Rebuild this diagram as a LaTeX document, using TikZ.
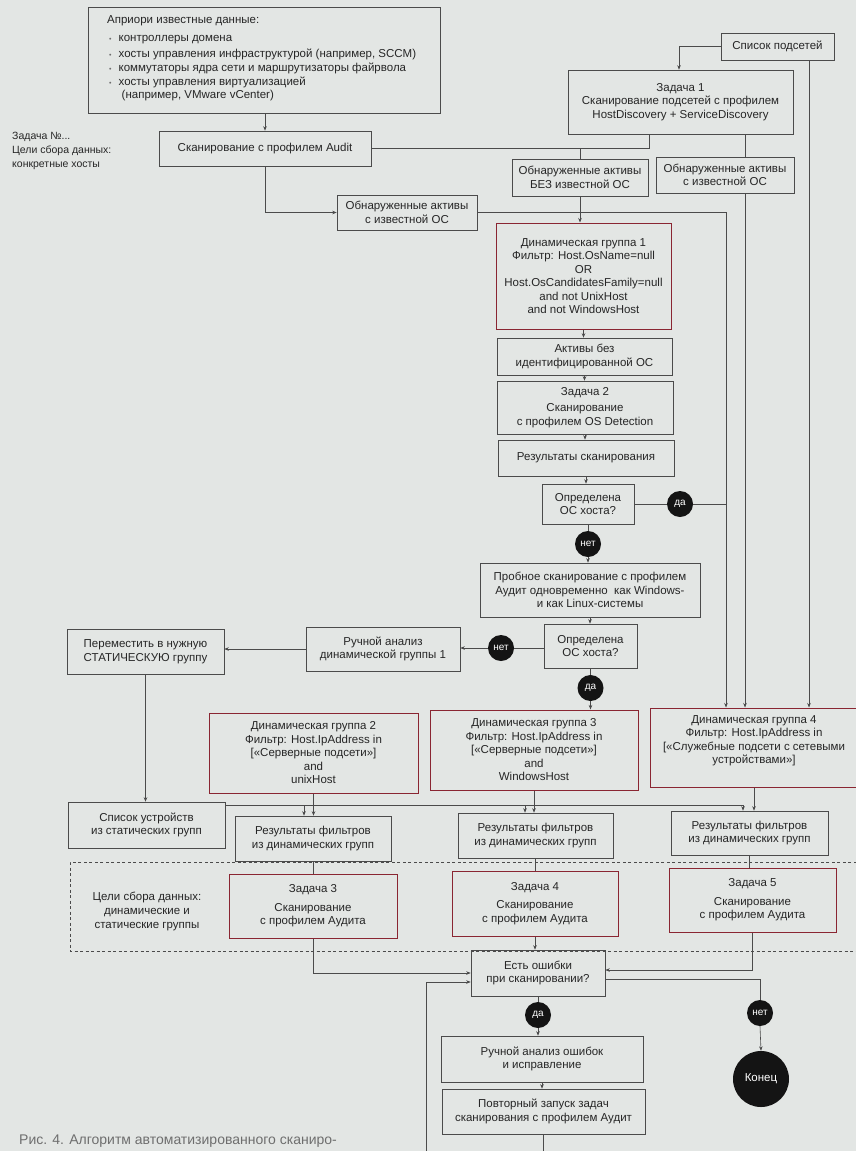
\documentclass[tikz,border=0pt]{standalone}
\usepackage{fontspec}
\setmainfont{Liberation Sans}
\usetikzlibrary{arrows.meta,calc}
\definecolor{paper}{RGB}{227,230,228}
\definecolor{ink}{RGB}{38,38,38}
\definecolor{edge}{RGB}{75,75,75}
\definecolor{accent}{RGB}{138,38,50}
\definecolor{note}{RGB}{110,110,110}

\begin{document}
\begin{tikzpicture}[x=1pt,y=-1pt,
  every node/.style={text=ink},
  basefont/.style={font=\fontsize{11.5}{13.5}\selectfont},
  flowbox/.style={basefont, draw=edge, line width=0.6pt, align=center, inner sep=2pt},
  redflow/.style={flowbox, draw=accent, line width=1pt},
  lbl/.style={circle, fill=black!92, text=white, inner sep=0pt, minimum size=26pt,
    font=\fontsize{10}{11}\selectfont},
  txt/.style={basefont, inner sep=0pt},
  conn/.style={draw=edge, line width=0.6pt},
  arrc/.style={conn, -{Stealth[length=4.5pt,width=3.5pt]}},
]
\path[use as bounding box, fill=paper] (0,0) rectangle (856,1151);

% vertical trunks on the right
\coordinate (vL) at (726,0);
\coordinate (vR) at (745,0);
\coordinate (vS) at (809,0);
\coordinate (xT1) at (679,0);
\coordinate (xJ) at (649,0);
\coordinate (j1) at (649,148.5);

% data-goals frame
\draw[draw=edge, line width=0.6pt, dash pattern=on 3pt off 2.5pt]
  (862,862) -- (70,862) -- (70,951) -- (862,951);

% ---------- top block ----------
\node[flowbox, minimum width=352pt, minimum height=106pt] (apriori) at (264,60) {};
\node[txt, anchor=west] (apr0) at (107,21) {Априори известные данные:};
\node[txt, anchor=west] (apr1) at (109,40) {{\color{note}\scriptsize•}\hspace{7pt}контроллеры домена};
\node[txt, anchor=west] (apr2) at (109,54) {{\color{note}\scriptsize•}\hspace{7pt}хосты управления инфраструктурой (например, SCCM)};
\node[txt, anchor=west] (apr3) at (109,68) {{\color{note}\scriptsize•}\hspace{7pt}коммутаторы ядра сети и маршрутизаторы файрвола};
\node[txt, anchor=west] (apr4) at (109,82) {{\color{note}\scriptsize•}\hspace{7pt}хосты управления виртуализацией};
\node[txt, anchor=west] (apr5) at (121.5,96) {(например, VMware vCenter)};

\node[txt, anchor=west, align=left, font=\fontsize{10.5}{14}\selectfont] (leftnote) at (12,151)
  {Задача №...\\Цели сбора данных:\\конкретные хосты};

\node[flowbox, minimum width=212pt, minimum height=35pt] (audit) at (265,148.5) {Сканирование с профилем Audit};
\node[flowbox, minimum width=113pt, minimum height=27pt] (subnets) at (777.5,46.5) {Список подсетей};
\node[flowbox, minimum width=225pt, minimum height=64pt] (task1) at (680.5,102)
  {Задача 1\\Сканирование подсетей с профилем\\HostDiscovery + ServiceDiscovery};
\node[flowbox, minimum width=136pt, minimum height=37pt] (noOS) at (580,177.5)
  {Обнаруженные активы\\БЕЗ известной ОС};
\node[flowbox, minimum width=138pt, minimum height=36pt] (knownR) at (725,175)
  {Обнаруженные активы\\с известной ОС};
\node[flowbox, minimum width=140pt, minimum height=35pt] (knownL) at (407,212.5)
  {Обнаруженные активы\\с известной ОС};

% ---------- central column ----------
\node[redflow, minimum width=175pt, minimum height=106pt] (dyn1) at (583.5,276)
  {Динамическая группа 1\\Фильтр: Host.OsName=null\\OR\\Host.OsCandidatesFamily=null\\and not UnixHost\\and not WindowsHost};
\node[flowbox, minimum width=175pt, minimum height=37pt] (unid) at (584.5,356.5)
  {Активы без\\идентифицированной ОС};
\node[flowbox, minimum width=176pt, minimum height=53pt] (task2) at (585,407.5)
  {Задача 2\\[3pt]Сканирование\\с профилем OS Detection};
\node[flowbox, minimum width=176pt, minimum height=36pt] (results) at (586,458)
  {Результаты сканирования};
\node[flowbox, minimum width=92pt, minimum height=40pt] (q1) at (588,504)
  {Определена\\ОС хоста?};
\node[lbl] (yes1) at (680,504) {да};
\node[lbl] (no1) at (588,544) {нет};
\node[flowbox, minimum width=220pt, minimum height=54pt] (probe) at (590,590)
  {Пробное сканирование с профилем\\Аудит одновременно\ \ как Windows-\\и как Linux-системы};
\node[flowbox, minimum width=93pt, minimum height=44pt] (q2) at (590.5,646)
  {Определена\\ОС хоста?};
\node[lbl] (no2) at (501,648) {нет};
\node[flowbox, minimum width=154pt, minimum height=44pt] (manual1) at (383,649)
  {Ручной анализ\\динамической группы 1};
\node[flowbox, minimum width=157pt, minimum height=45pt] (move) at (145.5,651.5)
  {Переместить в нужную\\СТАТИЧЕСКУЮ группу};
\node[lbl] (yes2) at (590.5,688) {да};

% ---------- dynamic groups ----------
\node[redflow, minimum width=209pt, minimum height=80pt] (dyn2) at (313.5,753)
  {Динамическая группа 2\\Фильтр: Host.IpAddress in\\{[}«Серверные подсети»{]}\\and\\unixHost};
\node[redflow, minimum width=208pt, minimum height=80pt] (dyn3) at (534,750)
  {Динамическая группа 3\\Фильтр: Host.IpAddress in\\{[}«Серверные подсети»{]}\\and\\WindowsHost};
\node[redflow, minimum width=208pt, minimum height=79pt, text depth=16pt] (dyn4) at (754,747.5)
  {Динамическая группа 4\\Фильтр: Host.IpAddress in\\{[}«Служебные подсети с сетевыми\\устройствами»{]}};

\node[flowbox, minimum width=157pt, minimum height=46pt] (static) at (146.5,825)
  {Список устройств\\из статических групп};
\node[flowbox, minimum width=156pt, minimum height=45pt] (res1) at (313,838.5)
  {Результаты фильтров\\из динамических групп};
\node[flowbox, minimum width=155pt, minimum height=45pt] (res2) at (535.5,835.5)
  {Результаты фильтров\\из динамических групп};
\node[flowbox, minimum width=157pt, minimum height=44pt] (res3) at (749.5,833)
  {Результаты фильтров\\из динамических групп};

\node[txt, align=center, font=\fontsize{11.5}{14}\selectfont] (goals) at (147,911)
  {Цели сбора данных:\\динамические и\\статические группы};
\node[redflow, minimum width=168pt, minimum height=64pt] (task3) at (313,906)
  {Задача 3\\[5pt]Сканирование\\с профилем Аудита};
\node[redflow, minimum width=166pt, minimum height=65pt] (task4) at (535,903.5)
  {Задача 4\\[5pt]Сканирование\\с профилем Аудита};
\node[redflow, minimum width=167pt, minimum height=64pt] (task5) at (752.5,900)
  {Задача 5\\[5pt]Сканирование\\с профилем Аудита};

% ---------- error handling ----------
\node[flowbox, minimum width=134pt, minimum height=46pt] (errq) at (538,973)
  {Есть ошибки\\при сканировании?};
\node[lbl] (yes3) at (538,1015) {да};
\node[flowbox, minimum width=202pt, minimum height=46pt] (manual2) at (542,1059)
  {Ручной анализ ошибок\\и исправление};
\node[flowbox, minimum width=203pt, minimum height=45pt] (rerun) at (543.5,1111.5)
  {Повторный запуск задач\\сканирования с профилем Аудит};
\node[lbl] (no3) at (760,1013) {нет};
\node[circle, fill=black!92, text=white, inner sep=0pt, minimum size=56pt,
  font=\fontsize{11.5}{12}\selectfont] (endc) at (761,1079) {Конец};

\node[txt, anchor=west, text=note, font=\fontsize{14}{16}\selectfont] (caption) at (19,1141)
  {Рис. 4. Алгоритм автоматизированного сканиро-};

% ---------- connectors ----------
\draw[arrc] (audit.north |- apriori.south) -- (audit.north);
\draw[arrc] (subnets.west) -| (task1.north -| xT1);
\draw[conn] (task1.south -| xJ) -- (j1) -| (noOS.north);
\draw[conn] (audit.east) -- (j1);
\draw[conn] (task1.south -| vR) -- (knownR.north -| vR);
\draw[arrc] (knownR.south -| vR) -- (dyn4.north -| vR);
\draw[arrc] (subnets.south -| vS) -- (dyn4.north -| vS);
\draw[arrc] (audit.south) |- (knownL.west);
\draw[arrc] (knownL.east) -| (dyn4.north -| vL);

\draw[arrc] (noOS.south) -- (noOS.south |- dyn1.north);
\draw[arrc] (dyn1.south) -- (dyn1.south |- unid.north);
\draw[arrc] (unid.south) -- (unid.south |- task2.north);
\draw[arrc] (task2.south) -- (task2.south |- results.north);
\draw[arrc] (results.south) -- (results.south |- q1.north);
\draw[conn] (q1.east) -- (yes1.west);
\draw[conn] (yes1.east) -- (yes1.east -| vL);
\draw[conn] (q1.south) -- (no1.north);
\draw[arrc] (no1.south) -- (no1.south |- probe.north);
\draw[arrc] (probe.south) -- (probe.south |- q2.north);
\draw[conn] (q2.west |- no2) -- (no2.east);
\draw[arrc] (no2.west) -- (no2.west -| manual1.east);
\draw[arrc] (manual1.west) -- (manual1.west -| move.east);
\draw[arrc] (move.south) -- (move.south |- static.north);
\draw[conn] (q2.south) -- (yes2.north);
\draw[arrc] (yes2.south) -- (yes2.south |- dyn3.north);

\coordinate (sb) at ([yshift=-4pt]static.north east);
\draw[arrc] (sb) -| ([xshift=-9pt]res1.north);
\draw[arrc] (sb) -| ([xshift=-10.5pt]res2.north);
\draw[arrc] (sb) -| ([xshift=-6.5pt]res3.north);
\draw[arrc] (dyn2.south) -- (dyn2.south |- res1.north);
\draw[arrc] (dyn3.south) -- (dyn3.south |- res2.north);
\draw[arrc] (dyn4.south) -- (dyn4.south |- res3.north);

\draw[conn] (res1.south) -- (res1.south |- task3.north);
\draw[conn] (res2.south) -- (res2.south |- task4.north);
\draw[conn] (res3.south) -- (res3.south |- task5.north);

\draw[arrc] (task3.south) |- (errq.west);
\draw[arrc] (task4.south) -- (task4.south |- errq.north);
\draw[arrc] (task5.south) |- ([yshift=3pt]errq.east);
\draw[conn] (errq.south) -- (yes3.north);
\draw[arrc] (yes3.south) -- (yes3.south |- manual2.north);
\draw[arrc] (manual2.south) -- (manual2.south |- rerun.north);

\coordinate (loopx) at (426,1170);
\coordinate (lin) at ([yshift=-9pt]errq.west);
\draw[arrc] (rerun.south) -- (rerun.south |- loopx) -| (lin -| loopx) -- (lin);

\coordinate (eout) at ([yshift=-6pt]errq.east);
\draw[conn] (eout) -| (no3.north);
\draw[arrc] (no3.south) -- (endc.north);
\end{tikzpicture}
\end{document}
